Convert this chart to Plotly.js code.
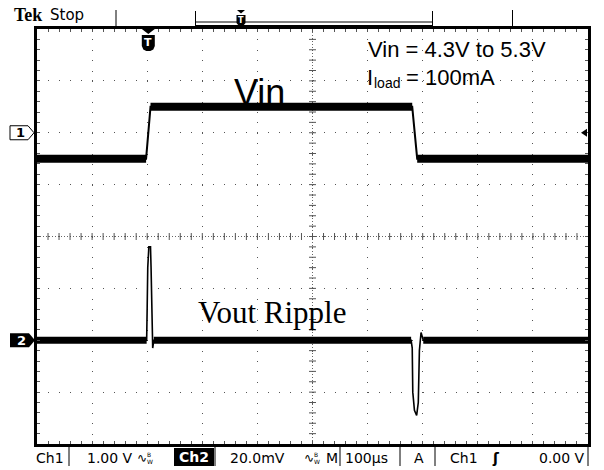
<!DOCTYPE html>
<html>
<head>
<meta charset="utf-8">
<script src="https://cdn.plot.ly/plotly-3.0.1.min.js"></script>
<style>html,body{margin:0;padding:0;background:#fff;}#chart{width:604px;height:470px;}</style>
</head>
<body>
<div id="chart"></div>
<script>
// ---------------- data ----------------
const timeRange = [-200, 800];      // µs, 100 µs/div, trigger at 0
const ch1Range = [-6, 2];           // V (AC coupled), 1.00 V/div
const ch2Range = [-40, 120];        // mV, 20.0 mV/div
const vinDC = 4.8;                  // V, removed by AC coupling
const vinT = [-200, -2, 6, 481, 490, 800];          // µs
const vinV = [4.3, 4.3, 5.3, 5.3, 4.3, 4.3];        // V
const ripT = [-200, -1, 0, 1, 3, 6, 7, 8, 10, 12, 479, 481, 482, 485, 489, 492, 494, 497, 501, 800]; // µs
const ripV = [0, 0, 13, 28, 36, 36, 28, 13, -3, 0, 0, -3, -20, -27, -29, -24, -4, 3, 0, 0];          // mV
const trigT = 2;                    // µs, trigger marker
const statusLabels = ["Ch1", "1.00 V", "Ch2", "20.0mV", "M", "100µs", "A", "Ch1", "0.00 V"];

// ---------------- geometry helpers ----------------
const W = 604, H = 470, L = 37, R = 16, T = 29, B = 26;
const PW = W - L - R, PH = H - T - B;
const xp = x => (x - L) / PW;
const yp = y => (H - B - y) / PH;
function poly(pts) { return 'M' + pts.map(p => xp(p[0]) + ',' + yp(p[1])).join('L') + 'Z'; }
function lineP(x0, y0, x1, y1, w, c) {
  return {type: 'line', xref: 'paper', yref: 'paper', x0: xp(x0), y0: yp(y0), x1: xp(x1), y1: yp(y1),
          line: {color: c || '#000', width: w || 1}};
}
function fillP(pts, fill, lc, lw) {
  return {type: 'path', xref: 'paper', yref: 'paper', path: poly(pts), fillcolor: fill,
          line: {color: lc || fill, width: lw === undefined ? 0 : lw}};
}
function ann(text, x, y, o) {
  o = o || {};
  return Object.assign({text: text, xref: 'paper', yref: 'paper', x: xp(x), y: yp(y), showarrow: false,
    xanchor: o.xa || 'left', yanchor: 'middle', borderpad: 0,
    font: Object.assign({family: 'DejaVu Sans', size: 14, color: '#000'}, o.font || {})}, o.extra || {});
}
function flatSegments(t, v, ok) {
  const xs = [], ys = [];
  for (let i = 0; i < t.length - 1; i++) {
    if (ok(v[i], v[i + 1])) { xs.push(t[i], t[i + 1], null); ys.push(v[i], v[i + 1], null); }
  }
  return {xs, ys};
}

const vinDisp = vinV.map(v => v - vinDC);
const vinFlat = flatSegments(vinT, vinDisp, (a, b) => a === b);
const ripFlat = flatSegments(ripT, ripV, (a, b) => a === 0 && b === 0);

const traces = [
  {x: vinT, y: vinDisp, mode: 'lines', line: {color: '#000', width: 2}, yaxis: 'y', hoverinfo: 'skip'},
  {x: vinFlat.xs, y: vinFlat.ys, mode: 'lines', line: {color: '#000', width: 8}, yaxis: 'y', hoverinfo: 'skip'},
  {x: ripT, y: ripV, mode: 'lines', line: {color: '#000', width: 1.6}, yaxis: 'y2', hoverinfo: 'skip'},
  {x: ripFlat.xs, y: ripFlat.ys, mode: 'lines', line: {color: '#000', width: 7}, yaxis: 'y2', hoverinfo: 'skip'}
];

// ---------------- graticule decorations ----------------
const shapes = [];
const xDiv = (timeRange[1] - timeRange[0]) / 10, yDiv = (ch1Range[1] - ch1Range[0]) / 8;
const xC = (timeRange[0] + timeRange[1]) / 2, yC = (ch1Range[0] + ch1Range[1]) / 2;
const pxPerX = PW / (timeRange[1] - timeRange[0]), pxPerY = PH / (ch1Range[1] - ch1Range[0]);
// dense dotted centre lines
shapes.push({type: 'line', xref: 'x', yref: 'y', x0: timeRange[0], x1: timeRange[1], y0: yC, y1: yC, layer: 'below',
             line: {color: '#666', width: 1, dash: '1px,2px'}});
shapes.push({type: 'line', xref: 'x', yref: 'y', x0: xC, x1: xC, y0: ch1Range[0], y1: ch1Range[1], layer: 'below',
             line: {color: '#666', width: 1, dash: '1px,2px'}});
for (let k = 1; k < 50; k++) {
  const t = timeRange[0] + k * xDiv / 5;
  shapes.push({type: 'line', xref: 'x', yref: 'y', x0: t, x1: t, y0: yC - 3.5 / pxPerY, y1: yC + 3.5 / pxPerY,
               layer: 'below', line: {color: '#555', width: 1}});
}
for (let k = 1; k < 40; k++) {
  const v = ch1Range[0] + k * yDiv / 5;
  shapes.push({type: 'line', xref: 'x', yref: 'y', y0: v, y1: v, x0: xC - 3.5 / pxPerX, x1: xC + 3.5 / pxPerX,
               layer: 'below', line: {color: '#555', width: 1}});
}

// trigger marker in plot (T)
const trigPx = L + (trigT - timeRange[0]) * pxPerX;
shapes.push(fillP([[trigPx - 6.5, 29], [trigPx + 6.5, 29], [trigPx, 34]], '#000'));
shapes.push(fillP([[trigPx - 6.5, 35], [trigPx + 6.5, 35], [trigPx + 6.5, 46], [trigPx + 5, 49.5], [trigPx + 2, 51],
                   [trigPx - 2, 51], [trigPx - 5, 49.5], [trigPx - 6.5, 46]], '#000'));
// channel markers
const ch1Px = T + (ch1Range[1] - 0) * pxPerY;
const ch2Px = T + (ch2Range[1] - 0) * PH / (ch2Range[1] - ch2Range[0]);
shapes.push(fillP([[10, ch1Px - 7], [28, ch1Px - 7], [34, ch1Px], [28, ch1Px + 7], [10, ch1Px + 7]], '#fff', '#000', 1));
shapes.push(fillP([[10, ch2Px - 7], [29, ch2Px - 7], [35, ch2Px], [29, ch2Px + 7], [10, ch2Px + 7]], '#000'));
// trigger level arrow at right
shapes.push(fillP([[581, ch1Px], [587, ch1Px - 4], [587, ch1Px + 4]], '#000'));

// top bar
shapes.push(lineP(116, 10, 116, 27, 1));
shapes.push(lineP(195.5, 11, 195.5, 27, 1));
shapes.push(lineP(432.5, 11, 432.5, 27, 1));
shapes.push(lineP(195.5, 22, 432.5, 22, 1));
shapes.push(lineP(195.5, 25.5, 432.5, 25.5, 1));
shapes.push(lineP(512.5, 10, 512.5, 27, 1));
shapes.push(fillP([[237, 10], [245, 10], [241, 13.5]], '#000'));
shapes.push(fillP([[236.5, 15], [245.5, 15], [245.5, 23], [243, 26], [239, 26], [236.5, 23]], '#000'));

// status bar boxes
[69, 215, 340, 400, 435, 588].forEach(x => shapes.push(lineP(x, 447, x, 466, 1)));
shapes.push(fillP([[174, 448], [214, 448], [214, 466], [174, 466]], '#000'));

// ---------------- texts ----------------
const sans = 'Liberation Sans, Arial, sans-serif';
const annotations = [
  ann('<b>Tek</b>', 13, 15.5, {font: {family: 'Liberation Serif', size: 18, color: '#000'}}),
  ann('Stop', 49, 15, {font: {family: 'DejaVu Sans', size: 15}}),
  ann('<b>T</b>', trigPx, 42.5, {xa: 'center', font: {family: 'DejaVu Sans', size: 11, color: '#fff'}}),
  ann('<b>T</b>', 241, 20, {xa: 'center', font: {family: 'DejaVu Sans', size: 8, color: '#fff'}}),
  ann('<b>1</b>', 20, ch1Px, {xa: 'center', font: {family: 'DejaVu Sans', size: 13}}),
  ann('<b>2</b>', 21, ch2Px, {xa: 'center', font: {family: 'DejaVu Sans', size: 13, color: '#fff'}}),
  ann('Vin = 4.3V to 5.3V', 367, 49.5, {font: {family: sans, size: 22}}),
  ann('I', 366, 77.5, {font: {family: sans, size: 22}}),
  ann('load', 373, 83.5, {font: {family: sans, size: 14}}),
  ann('= 100mA', 405, 77.5, {font: {family: sans, size: 22}}),
  ann('Vin', 233, 92.5, {font: {family: sans, size: 36}}),
  ann('Vout Ripple', 197, 312.5, {font: {family: 'Liberation Serif', size: 31}}),
  // status bar
  ann(statusLabels[0], 35, 458, {font: {size: 14}}),
  ann(statusLabels[1], 86, 458, {font: {size: 14}}),
  ann('∿', 136, 458, {font: {size: 12}}),
  ann('B', 146, 454, {font: {size: 6}}),
  ann('W', 146, 461, {font: {size: 6}}),
  ann('<b>' + statusLabels[2] + '</b>', 194, 457, {xa: 'center', font: {size: 14, color: '#fff'}}),
  ann(statusLabels[3], 229, 458, {font: {size: 14}}),
  ann('∿', 303, 458, {font: {size: 12}}),
  ann('B', 313, 454, {font: {size: 6}}),
  ann('W', 313, 461, {font: {size: 6}}),
  ann(statusLabels[4], 325, 458, {font: {size: 14}}),
  ann(statusLabels[5], 344, 458, {font: {size: 14}}),
  ann(statusLabels[6], 413, 458, {font: {size: 14}}),
  ann(statusLabels[7], 449, 458, {font: {size: 14}}),
  ann('<b>ʃ</b>', 491, 458, {font: {size: 14}}),
  ann(statusLabels[8], 586, 458, {xa: 'right', font: {size: 14}})
];

const axCommon = {
  showticklabels: false, zeroline: false, showline: true, linecolor: '#000', linewidth: 3, mirror: 'ticks',
  ticks: 'inside', ticklen: 3, tickwidth: 1, tickcolor: '#555', showgrid: true, gridcolor: '#555', gridwidth: 1,
  fixedrange: true
};
const layout = {
  width: W, height: H, margin: {l: L, r: R, t: T, b: B, pad: 0},
  paper_bgcolor: '#fff', plot_bgcolor: '#fff', showlegend: false,
  xaxis: Object.assign({}, axCommon, {range: timeRange, dtick: xDiv, tick0: 0,
    griddash: '1px,' + (PH / 40 - 1) + 'px',
    minor: {dtick: xDiv / 5, tick0: 0, ticks: 'inside', ticklen: 3, tickcolor: '#555', showgrid: false}}),
  yaxis: Object.assign({}, axCommon, {range: ch1Range, dtick: yDiv, tick0: 0,
    griddash: '1px,' + (PW / 50 - 1) + 'px',
    minor: {dtick: yDiv / 5, tick0: 0, ticks: 'inside', ticklen: 3, tickcolor: '#555', showgrid: false}}),
  yaxis2: {range: ch2Range, overlaying: 'y', visible: false, fixedrange: true},
  shapes: shapes,
  annotations: annotations
};
Plotly.newPlot('chart', traces, layout, {displayModeBar: false, staticPlot: true});
</script>
</body>
</html>
